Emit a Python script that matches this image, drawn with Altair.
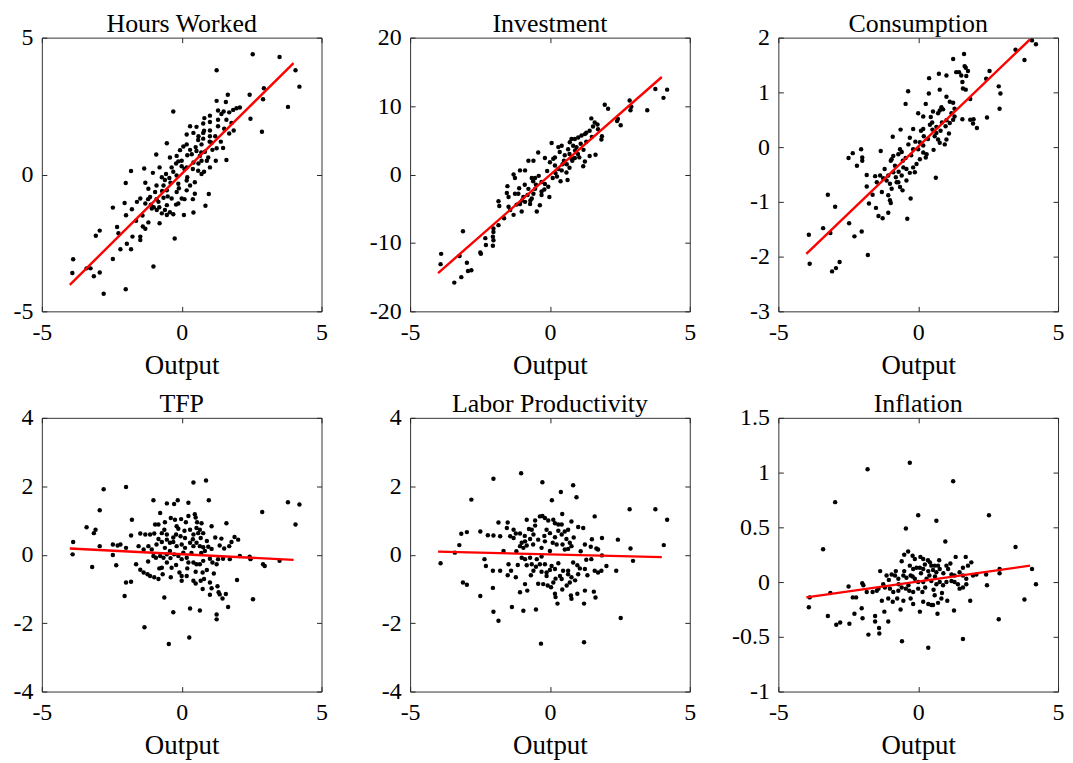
import altair as alt
import pandas as pd

# ---------------- data ----------------
titles = ["Hours Worked", "Investment", "Consumption", "TFP", "Labor Productivity", "Inflation"]
x_ticks = [-5, 0, 5]

hours_pts = [
    (2.54, 4.39), (3.50, 4.29), (1.25, 3.81), (4.07, 3.81), (4.21, 3.21), (2.94, 3.15), (2.43, 2.91), (1.65, 2.91), (2.91, 2.75), (1.25, 2.69),
    (1.58, 2.65), (3.80, 2.47), (2.08, 2.45), (1.96, 2.42), (1.84, 2.36), (1.30, 2.34), (-0.30, 2.30), (1.70, 2.27), (1.42, 2.21), (1.01, 2.15),
    (0.81, 2.06), (2.46, 2.04), (1.60, 2.00), (1.01, 1.92), (0.77, 1.86), (1.78, 1.88), (1.30, 1.76), (0.30, 1.76), (0.53, 1.74), (1.52, 1.67),
    (1.86, 1.61), (1.01, 1.61), (2.87, 1.56), (0.42, 1.52), (0.77, 1.52), (1.70, 1.50), (0.18, 1.46), (1.01, 1.40), (0.77, 1.31), (0.59, 1.26),
    (-0.53, 1.14), (0.18, 1.10), (0.71, 1.10), (1.07, 1.16), (1.25, 0.96), (1.48, 0.97), (0.06, 1.02), (-0.06, 0.89), (0.53, 0.86), (0.83, 0.83),
    (-0.91, 0.73), (-0.18, 0.68), (0.36, 0.74), (0.65, 0.68), (0.95, 0.62), (-0.42, 0.62), (1.60, 0.53), (1.22, 0.50), (0.42, 0.44), (0.71, 0.50),
    (-0.12, 0.48), (-0.79, 0.26), (-0.36, 0.26), (0.00, 0.30), (1.01, 0.26), (0.18, 0.26), (-1.34, 0.22), (-1.81, 0.13), (0.59, 0.14), (-0.56, 0.02),
    (0.71, 0.02), (-1.03, 0.06), (-0.18, -0.04), (-0.71, -0.10), (-0.44, -0.13), (0.18, -0.22), (0.47, -0.28), (-2.00, -0.31), (-0.12, -0.34), (-0.65, -0.40),
    (-1.19, -0.52), (-0.95, -0.64), (-0.53, -0.58), (0.18, -0.58), (-0.18, -0.64), (0.47, -0.70), (0.97, -0.71), (-1.48, -0.88), (-1.13, -0.82), (-0.65, -0.85),
    (-0.36, -0.88), (0.00, -0.88), (-0.83, -1.00), (-2.04, -1.04), (-1.30, -1.06), (-0.53, -1.12), (-0.12, -1.06), (0.85, -1.14), (-2.46, -1.21), (-1.07, -1.24),
    (-1.78, -1.27), (-0.89, -1.30), (-0.42, -1.38), (0.42, -1.39), (-0.71, -1.42), (0.08, -1.48), (-1.99, -1.49), (-0.30, -1.45), (-0.53, -1.48), (-1.63, -1.69),
    (-1.19, -1.75), (-0.79, -1.78), (-1.39, -1.90), (-2.31, -1.92), (-1.30, -1.98), (-2.93, -2.05), (-2.26, -2.15), (-3.07, -2.24), (-1.76, -2.27), (-1.48, -2.27),
    (-0.25, -2.34), (-1.48, -2.39), (-1.96, -2.53), (-2.19, -2.73), (-1.81, -2.73), (-3.88, -3.10), (-2.46, -3.09), (-1.01, -3.36), (-3.40, -3.43), (-3.26, -3.43),
    (-2.93, -3.58), (-3.91, -3.60), (-3.14, -3.72), (-2.00, -4.19), (-2.79, -4.36),
    (-1.2, -0.9), (-1.1, -1.1), (-1.0, -1.2), (-0.9, -0.9), (-0.8, -1.2), (-0.7, -0.6), (-0.6, -0.2), (-0.5, -0.8), (-0.4, -0.3), (-0.3, 0.1),
    (-0.2, -1.1), (-0.1, -0.5), (0.0, 0.5), (0.1, -0.9), (0.2, 0.7), (0.3, -0.4), (0.3, 0.9), (0.4, 0.2), (0.5, 1.0), (0.6, 0.4),
    (0.6, 1.4), (0.7, 0.8), (0.8, 1.6), (0.9, 0.5), (1.0, 1.2), (1.1, 0.9), (1.2, 1.4), (1.3, 2.0), (1.4, 1.2), (1.5, 2.3),
    (-1.4, -1.5), (-1.6, -1.0), (-1.3, -0.3), (-0.6, -1.3), (0.1, 0.2), (0.2, -0.1), (0.4, -0.9), (0.8, 0.1), (-0.2, 0.4), (-0.9, -0.4),
]

invest_pts = [
    (3.77, 12.5), (4.19, 12.4), (4.06, 11.2), (3.48, 9.4), (2.85, 10.8), (2.91, 9.9), (2.88, 9.4), (1.96, 10.2), (2.08, 9.6), (2.43, 8.1),
    (2.40, 7.8), (2.53, 7.2), (1.48, 8.2), (1.60, 7.6), (1.70, 7.3), (1.54, 7.0), (1.72, 6.6), (1.42, 6.4), (1.30, 6.1), (1.25, 5.9),
    (1.13, 5.7), (1.01, 5.4), (0.89, 5.2), (0.77, 5.2), (0.71, 4.7), (0.83, 4.2), (0.65, 3.7), (1.86, 5.6), (1.84, 5.1), (1.63, 2.9),
    (1.42, 2.7), (1.25, 1.9), (1.19, 1.2), (0.89, 2.4), (0.77, 2.3), (0.53, 2.8), (0.42, 4.2), (0.30, 4.0), (0.06, 4.6), (0.18, 2.5),
    (0.63, -0.8), (0.38, -1.0), (0.59, 0.3), (0.42, 0.6), (0.30, 0.8), (0.18, 1.3), (0.12, 2.3), (0.00, 1.8), (-0.77, 2.0), (-0.59, 2.0),
    (-0.42, 3.2), (-0.18, 2.4), (-1.30, 0.0), (-1.25, -0.5), (-0.89, 0.6), (-1.07, 0.6), (-0.53, -0.5), (-0.65, -0.5), (-0.30, -1.1), (-0.18, -1.4),
    (-0.06, -1.8), (-0.02, -3.3), (-0.36, -4.5), (-0.47, -5.4), (-1.52, -1.7), (-1.54, -2.7), (-1.48, -3.3), (-1.84, -3.9), (-1.81, -4.6), (-1.48, -4.7),
    (-1.42, -5.2), (-1.30, -5.9), (-1.19, -4.4), (-1.07, -4.3), (-1.01, -5.4), (-0.89, -4.0), (-0.71, -4.3), (-0.65, -3.5), (-0.59, -2.8), (-0.53, -2.1),
    (-0.77, -2.1), (-0.95, -3.3), (-1.13, -2.8), (-1.25, -2.8), (-1.64, -6.4), (-1.84, -7.4), (-2.02, -7.9), (-2.02, -8.4), (-2.04, -9.1), (-2.02, -9.6),
    (-2.04, -10.4), (-2.31, -9.3), (-2.29, -10.3), (-2.49, -11.4), (-2.47, -11.6), (-3.11, -8.3), (-3.23, -11.9), (-2.97, -12.9), (-2.93, -14.1), (-2.81, -14.0),
    (-3.17, -15.0), (-3.42, -15.8), (-3.89, -11.6), (-3.91, -13.1),
    (0.2, 0.2), (-0.3, -2.5), (0.5, 2.0), (0.7, 3.0), (-0.8, -3.0), (0.9, 3.5), (1.0, 3.0), (1.1, 4.5), (-0.4, -0.2), (0.35, 3.3),
    (0.6, 1.5), (-0.1, 0.5), (-0.6, -1.0), (1.3, 4.8), (1.5, 5.5), (0.25, -0.3), (-1.0, -3.8), (-0.2, -2.2), (0.8, 2.0), (0.95, 4.0),
    (-0.9, -1.5), (-0.7, -3.8), (-0.3, -3.0), (0.1, -0.5), (0.45, 1.5), (0.7, 1.0), (1.05, 2.5), (1.2, 3.6), (-1.1, -2.0), (-0.5, -1.5),
]

cons_pts = [
    (4.07, 1.95), (4.21, 1.88), (3.48, 1.78), (3.80, 1.59), (1.64, 1.70), (1.25, 1.61), (1.66, 1.48), (1.70, 1.45), (1.36, 1.37), (1.46, 1.37),
    (1.78, 1.39), (1.72, 1.30), (1.54, 1.31), (0.74, 1.34), (1.01, 1.31), (0.39, 1.26), (2.55, 1.39), (2.43, 1.25), (1.58, 1.19), (1.60, 1.07),
    (1.70, 1.05), (2.88, 1.11), (2.94, 0.98), (-0.36, 1.02), (0.77, 1.05), (0.38, 0.98), (1.01, 0.92), (1.86, 0.88), (1.13, 0.83), (1.25, 0.81),
    (-0.45, 0.79), (0.27, 0.79), (2.91, 0.70), (0.83, 0.73), (0.77, 0.67), (0.89, 0.69), (0.71, 0.62), (0.53, 0.65), (0.18, 0.56), (0.00, 0.62),
    (1.19, 0.62), (1.30, 0.56), (1.25, 0.50), (1.13, 0.44), (1.01, 0.49), (0.98, 0.38), (1.58, 0.51), (1.86, 0.50), (1.98, 0.51), (1.96, 0.43),
    (2.10, 0.35), (2.46, 0.54), (-0.63, 0.32), (-0.18, 0.33), (0.18, 0.33), (0.42, 0.41), (0.51, 0.32), (0.65, 0.26), (0.59, 0.20), (0.71, 0.14),
    (0.77, 0.08), (0.95, 0.05), (1.01, 0.14), (0.65, 0.37), (-0.91, 0.19), (-0.30, 0.17), (0.06, 0.09), (0.18, 0.03), (-0.18, -0.04), (0.00, -0.04),
    (0.18, -0.10), (0.30, -0.13), (0.27, -0.19), (0.06, -0.22), (-0.06, -0.31), (-0.18, -0.37), (-0.12, -0.46), (-0.30, -0.47), (-0.42, -0.40), (-0.53, -0.37),
    (-0.59, -0.52), (-0.71, -0.64), (-0.65, -0.73), (-0.56, -0.79), (-0.42, -0.61), (-0.83, -0.34), (-0.95, -0.22), (-0.65, -0.04), (-0.59, -0.09), (-0.71, -0.13),
    (-0.89, -0.16), (-0.98, -0.25), (-1.34, -0.07), (-2.49, -0.20), (-2.34, -0.11), (-2.04, -0.04), (-2.00, -0.19), (-2.00, -0.25), (-2.19, -0.34), (-1.84, -0.51),
    (-1.54, -0.53), (-1.48, -0.64), (-1.36, -0.52), (-1.25, -0.57), (-1.13, -0.61), (-1.07, -0.52), (-1.01, -0.67), (-0.89, -0.46), (-0.77, -0.64), (-0.95, -0.76),
    (-1.07, -0.88), (-1.84, -0.72), (-1.63, -0.87), (-1.30, -0.82), (-1.01, -0.97), (-0.98, -1.02), (-0.27, -0.94), (0.63, -0.56), (-1.76, -1.03), (-1.51, -1.11),
    (-1.07, -1.20), (-1.42, -1.26), (-1.27, -1.30), (-0.39, -1.31), (-3.23, -0.87), (-2.97, -1.09), (-3.40, -1.48), (-3.14, -1.57), (-2.47, -1.39), (-2.02, -1.54),
    (-2.28, -1.63), (-3.91, -1.60), (-3.88, -2.13), (-1.80, -1.97), (-2.81, -2.10), (-2.94, -2.21), (-3.08, -2.27),
    (0.35, 0.15), (0.45, 0.55), (-0.25, -0.15), (-0.45, -0.2), (0.1, 0.3), (0.85, 0.45), (-0.8, -0.55), (-0.35, 0.05), (0.55, -0.05), (1.1, 0.25),
    (0.2, 0.2), (0.5, 0.45), (-0.1, 0.1), (-0.55, -0.25), (0.8, 0.3), (1.3, 0.7), (-1.2, -0.4), (-0.7, -0.45),
]

tfp_pts = [
    (0.87, 2.17), (0.42, 2.11), (-1.99, 1.98), (-2.79, 1.91), (-1.01, 1.59), (-0.14, 1.59), (-0.27, 1.48), (-0.53, 1.50), (0.24, 1.52), (0.97, 1.59),
    (3.80, 1.53), (4.21, 1.47), (-2.93, 1.30), (2.88, 1.25), (-0.77, 1.22), (0.47, 1.18), (0.50, 1.09), (-1.78, 1.02), (-0.39, 1.07), (-0.24, 1.02),
    (-0.02, 1.04), (0.24, 1.13), (0.71, 0.92), (1.60, 0.92), (4.07, 0.88), (-3.40, 0.80), (-3.08, 0.73), (-3.14, 0.63), (-0.95, 0.88), (-0.83, 0.88),
    (-0.18, 0.83), (-0.12, 0.76), (0.30, 0.73), (0.53, 0.78), (0.65, 0.73), (1.07, 0.83), (-0.62, 0.73), (-1.48, 0.62), (-1.30, 0.59), (-1.13, 0.59),
    (-0.98, 0.62), (-0.71, 0.63), (-1.81, 0.56), (-0.53, 0.59), (-0.20, 0.59), (-0.04, 0.54), (0.12, 0.49), (0.42, 0.59), (0.59, 0.63), (0.77, 0.63),
    (0.68, 0.49), (1.42, 0.47), (1.89, 0.52), (2.02, 0.44), (1.78, 0.37), (1.70, 0.25), (1.36, 0.27), (1.52, 0.18), (-0.83, 0.46), (-0.71, 0.37),
    (-0.53, 0.44), (-0.42, 0.35), (-0.30, 0.37), (-0.18, 0.25), (0.00, 0.30), (0.12, 0.20), (0.30, 0.35), (0.42, 0.25), (0.53, 0.35), (0.65, 0.25),
    (0.77, 0.22), (0.95, 0.23), (1.07, 0.17), (0.83, 0.11), (-2.46, 0.30), (-2.29, 0.27), (-2.19, 0.30), (-2.93, 0.25), (-3.88, 0.37), (-3.90, 0.01),
    (-2.46, -0.01), (-3.20, -0.36), (-2.34, -0.31), (-1.99, 0.20), (-1.54, 0.25), (-1.36, 0.15), (-1.19, 0.25), (-1.07, 0.15), (-1.01, -0.04), (-0.92, -0.09),
    (-0.77, -0.04), (-0.65, -0.09), (-0.53, 0.01), (-0.42, 0.11), (-0.27, 0.01), (-0.12, -0.04), (0.00, -0.13), (0.06, 0.06), (0.18, -0.09), (0.24, -0.23),
    (0.42, -0.23), (0.53, -0.28), (0.65, -0.28), (0.77, -0.18), (1.01, -0.12), (1.10, -0.23), (1.25, -0.28), (1.30, -0.13), (1.48, -0.12), (1.72, -0.13),
    (2.08, -0.04), (2.43, -0.06), (2.46, -0.13), (2.91, -0.28), (2.97, -0.33), (3.50, -0.18), (-1.63, -0.28), (-1.48, -0.44), (-1.36, -0.52), (-1.22, -0.57),
    (-1.13, -0.62), (-0.98, -0.66), (-0.83, -0.71), (-0.68, -0.57), (-0.71, -0.38), (-0.53, -0.23), (-0.36, -0.38), (-0.08, -0.52), (0.00, -0.62), (0.00, -0.76),
    (0.18, -0.62), (0.42, -0.76), (0.50, -0.84), (0.68, -0.76), (0.75, -0.52), (0.80, -0.71), (1.01, -0.81), (1.07, -0.98), (1.28, -0.92), (1.32, -1.10),
    (1.36, -1.16), (1.46, -1.28), (1.58, -1.15), (1.66, -1.53), (1.98, -0.74), (-1.99, -0.81), (-1.81, -0.79), (-2.04, -1.21), (-0.62, -1.25), (-0.39, -0.66),
    (0.75, -1.00), (1.01, -1.17), (0.30, -1.57), (0.65, -1.63), (-0.30, -1.68), (1.25, -1.75), (1.25, -1.89), (2.55, -1.30), (-1.33, -2.12), (0.27, -2.42),
    (-0.46, -2.61),
    (-0.9, 0.3), (-0.6, 0.2), (-0.3, 0.5), (0.1, 0.7), (0.4, 0.45), (0.7, 0.05), (0.9, 0.4), (1.2, 0.5), (-1.2, -0.2), (-0.8, -0.4),
    (-0.4, -0.1), (0.2, -0.4), (0.5, -0.5), (0.9, -0.45), (1.15, -0.55), (-0.2, -0.3), (0.35, 0.05), (-0.6, 0.95), (0.15, 0.95), (0.55, 0.95),
]

lp_pts = [
    (-1.03, 2.38), (-2.02, 2.22), (-0.27, 2.12), (0.83, 2.03), (0.39, 1.83), (0.95, 1.68), (-2.81, 1.61), (0.07, 1.59), (2.85, 1.33), (3.77, 1.33),
    (4.19, 1.02), (1.60, 1.12), (0.44, 1.19), (-0.83, 1.02), (-0.53, 1.00), (-0.36, 1.12), (-0.27, 1.13), (-0.18, 1.07), (-0.06, 1.00), (0.12, 1.02),
    (0.18, 0.92), (0.30, 0.88), (0.42, 0.88), (0.77, 0.97), (1.01, 0.81), (1.19, 0.78), (-1.84, 0.94), (-1.51, 0.94), (-2.97, 0.66), (-3.17, 0.61),
    (-2.49, 0.68), (-2.22, 0.57), (-2.02, 0.56), (-1.78, 0.54), (-1.54, 0.78), (-1.30, 0.73), (-1.22, 0.62), (-1.07, 0.62), (-1.42, 0.54), (-1.30, 0.49),
    (-0.65, 0.73), (-0.53, 0.85), (-0.59, 0.59), (-0.71, 0.46), (-0.89, 0.39), (-1.01, 0.35), (-0.83, 0.27), (-1.07, 0.25), (-0.95, 0.20), (-0.12, 0.73),
    (0.00, 0.63), (0.18, 0.51), (0.42, 0.59), (0.53, 0.68), (0.65, 0.73), (0.59, 0.46), (0.71, 0.35), (0.77, 0.25), (0.65, 0.17), (0.53, 0.15),
    (0.24, 0.30), (0.00, 0.11), (-0.30, 0.20), (-0.18, 0.39), (-0.42, 0.44), (1.86, 0.49), (2.43, 0.44), (1.25, 0.30), (1.46, 0.23), (1.66, 0.18),
    (1.72, 0.15), (-3.24, 0.28), (4.07, 0.28), (2.88, 0.18), (-1.66, 0.11), (-3.40, 0.06), (1.48, -0.13), (1.86, -0.02), (-3.91, -0.25), (-2.34, -0.13),
    (-2.29, -0.33), (-2.04, -0.47), (-1.78, -0.47), (-1.48, -0.28), (-1.39, -0.47), (-1.51, -0.60), (-1.22, -0.66), (-1.01, -0.09), (-0.89, -0.13), (-0.71, -0.09),
    (-0.65, -0.28), (-0.83, -0.31), (-0.59, -0.47), (-0.68, -0.60), (-0.89, -0.86), (-0.81, -1.05), (-0.47, -0.13), (-0.36, -0.28), (-0.18, -0.28), (-0.12, -0.52),
    (-0.30, -0.50), (-0.12, -0.62), (0.06, -0.33), (0.18, -0.42), (0.36, -0.62), (0.42, -0.71), (0.47, -0.47), (0.65, -0.47), (0.65, -0.57), (0.77, -0.66),
    (0.71, -0.81), (0.83, -0.23), (0.98, -0.31), (1.01, -0.57), (1.07, -0.40), (1.25, -0.42), (1.34, -0.60), (1.60, -0.47), (1.72, -0.52), (1.84, -0.47),
    (2.02, -0.33), (2.37, -0.47), (2.97, -0.18), (-3.11, -0.81), (-2.97, -0.88), (-2.49, -1.21), (-2.04, -0.97), (-1.07, -1.10), (-0.42, -0.85), (-0.24, -0.86),
    (-0.08, -0.90), (0.04, -0.95), (0.12, -0.81), (0.18, -1.14), (0.20, -1.24), (0.44, -1.02), (0.75, -1.19), (0.77, -1.29), (0.98, -1.14), (1.25, -1.05),
    (1.57, -1.08), (1.63, -1.25), (0.27, -1.43), (1.22, -1.43), (-1.36, -1.53), (-0.95, -1.64), (-0.50, -1.60), (-2.02, -1.67), (-1.84, -1.93), (2.53, -1.85),
    (-0.32, -2.60), (1.22, -2.56),
    (-0.9, 0.55), (-0.6, 0.3), (-0.2, 0.55), (0.3, 0.7), (0.85, 0.5), (1.1, 0.1), (-1.2, 0.1), (-0.5, -0.35), (0.0, -0.45), (0.3, -0.25),
    (0.6, -0.9), (0.9, -0.75), (1.3, -0.15), (-0.3, -0.05), (0.1, 0.35), (-1.15, -0.3), (0.45, 0.3), (1.5, 0.45), (-0.75, 0.75), (0.2, -0.7),
]

infl_pts = [
    (-0.30, 1.09), (-1.81, 1.03), (1.25, 0.92), (-2.97, 0.73), (0.00, 0.61), (2.53, 0.61), (0.65, 0.56), (-0.44, 0.49), (0.97, 0.37), (-3.40, 0.30),
    (3.48, 0.32), (-0.36, 0.28), (-0.50, 0.25), (-0.20, 0.24), (-0.59, 0.19), (-0.12, 0.21), (0.08, 0.23), (0.18, 0.21), (0.42, 0.18), (0.24, 0.16),
    (0.47, 0.15), (0.59, 0.15), (0.71, 0.15), (0.77, 0.12), (0.65, 0.09), (0.53, 0.11), (0.36, 0.10), (0.18, 0.12), (0.06, 0.13), (-0.06, 0.13),
    (-0.18, 0.12), (-0.30, 0.15), (1.34, 0.23), (1.70, 0.23), (1.90, 0.18), (1.78, 0.15), (1.60, 0.13), (1.01, 0.15), (1.07, 0.12), (1.19, 0.07),
    (1.30, 0.06), (1.48, 0.09), (1.60, 0.06), (1.72, 0.03), (1.96, 0.06), (2.08, 0.07), (2.43, 0.07), (2.91, 0.12), (2.91, 0.08), (4.07, 0.12),
    (4.21, -0.02), (2.46, -0.03), (3.80, -0.16), (-1.36, 0.10), (-1.13, 0.06), (-0.95, 0.07), (-0.83, 0.06), (-0.71, 0.03), (-0.53, 0.06), (-0.42, 0.04),
    (-0.27, 0.06), (-0.12, 0.03), (0.00, 0.00), (0.18, 0.00), (0.30, 0.03), (0.47, 0.01), (0.65, -0.02), (0.77, 0.00), (0.89, -0.03), (1.01, 0.00),
    (1.19, 0.01), (1.30, 0.00), (1.42, -0.02), (1.48, -0.06), (1.60, -0.05), (1.72, -0.02), (-2.49, -0.04), (-2.00, -0.01), (-1.96, -0.03), (-1.84, -0.09),
    (-1.63, -0.09), (-1.48, -0.08), (-1.42, -0.06), (-1.25, -0.02), (-1.19, -0.05), (-1.01, -0.06), (-0.89, -0.09), (-0.71, -0.08), (-0.59, -0.05), (-0.44, -0.06),
    (-0.32, -0.08), (-0.18, -0.09), (0.00, -0.06), (0.15, -0.09), (-3.14, -0.10), (-3.88, -0.14), (-3.91, -0.23), (-2.34, -0.14), (-2.22, -0.14), (-1.30, -0.17),
    (-1.07, -0.15), (-0.91, -0.18), (-0.75, -0.15), (-0.53, -0.17), (-0.27, -0.15), (-0.18, -0.20), (0.18, -0.18), (0.36, -0.20), (0.47, -0.21), (0.53, -0.21),
    (0.71, -0.19), (0.59, -0.12), (0.83, -0.15), (1.04, -0.17), (1.86, -0.17), (-2.02, -0.24), (-2.28, -0.29), (-1.99, -0.33), (-1.54, -0.31), (-1.54, -0.36),
    (-1.21, -0.27), (-1.07, -0.36), (-1.40, -0.42), (-1.39, -0.47), (-1.78, -0.48), (-0.63, -0.25), (0.06, -0.27), (0.69, -0.29), (1.28, -0.26), (2.88, -0.34),
    (-3.23, -0.31), (-2.93, -0.39), (-2.79, -0.37), (-2.46, -0.38), (-0.58, -0.54), (1.60, -0.52), (0.36, -0.60),
    (-0.8, 0.1), (-0.5, 0.1), (-0.2, 0.05), (0.1, 0.08), (0.4, 0.06), (0.6, 0.05), (0.9, 0.08), (1.15, 0.17), (-0.7, -0.02), (-0.35, -0.03),
    (0.25, -0.05), (0.55, -0.07), (0.85, -0.1), (-1.05, 0.02), (0.35, 0.2), (0.75, 0.2),
]

# end points of the red least-squares lines
fit_x = [-4, 4]
hours_fit = [-4.03, 4.07]
invest_fit = [-14.4, 14.25]
cons_fit = [-1.95, 1.97]
tfp_fit = [0.18, -0.15]
lp_fit = [0.09, -0.07]
infl_fit = [-0.14, 0.15]

y_domains = [[-5, 5], [-20, 20], [-3, 2], [-4, 4], [-4, 4], [-1, 1.5]]
y_ticks = [[-5, 0, 5], [-20, -10, 0, 10, 20], [-3, -2, -1, 0, 1, 2],
           [-4, -2, 0, 2, 4], [-4, -2, 0, 2, 4], [-1, -0.5, 0, 0.5, 1, 1.5]]
all_pts = [hours_pts, invest_pts, cons_pts, tfp_pts, lp_pts, infl_pts]
all_fits = [hours_fit, invest_fit, cons_fit, tfp_fit, lp_fit, infl_fit]

# ---------------- styling ----------------
FONT = "Liberation Serif, Times New Roman, serif"
INK = "#262626"
BOX = "#333333"
W, H = 281, 275

common = dict(grid=False, domain=False, tickSize=5, offset=-5, tickColor=INK, tickWidth=1,
              labelFont=FONT, labelFontSize=24, labelColor="black",
              labelExpr="'' + datum.value")
mirror = dict(title=None, labels=False, grid=False, domain=False, tickSize=5, offset=-5,
              tickColor=INK, tickWidth=1, minExtent=0, maxExtent=0)


def panel(title, pts, fit_y, ydom, yticks):
    df = pd.DataFrame(pts, columns=["x", "y"])
    fdf = pd.DataFrame({"x": fit_x, "y": fit_y})
    xs = alt.Scale(domain=[-5, 5], nice=False, zero=False)
    ys = alt.Scale(domain=ydom, nice=False, zero=False)
    dots = alt.Chart(df).mark_circle(size=20, color="black", opacity=1).encode(
        x=alt.X("x:Q", scale=xs, axis=alt.Axis(values=x_ticks, orient="bottom", title="Output",
                                                titleFont=FONT, titleFontSize=27, titleFontWeight="normal",
                                                titleColor="black", titlePadding=8, labelPadding=9,
                                                labelFlush=False, **common)),
        y=alt.Y("y:Q", scale=ys, axis=alt.Axis(values=yticks, orient="left", title=None,
                                                labelPadding=9, **common)),
    )
    line = alt.Chart(fdf).mark_line(color="#ff0000", strokeWidth=2.4).encode(
        x=alt.X("x:Q", scale=xs, axis=alt.Axis(values=x_ticks, orient="top", **mirror)),
        y=alt.Y("y:Q", scale=ys, axis=alt.Axis(values=yticks, orient="right", **mirror)),
    )
    return alt.layer(dots, line).resolve_axis(x="independent", y="independent").properties(
        width=W, height=H,
        title=alt.TitleParams(title, font=FONT, fontSize=26, fontWeight="normal", color="black",
                              offset=-11),
    )


panels = [panel(t, p, f, d, k) for t, p, f, d, k in zip(titles, all_pts, all_fits, y_domains, y_ticks)]

chart = alt.concat(*panels, columns=3, spacing={"row": 107, "column": 89}, bounds="flush").properties(
    padding={"left": 4, "top": 0, "right": 0, "bottom": 0},
    background="white",
).configure_view(stroke=BOX, strokeWidth=1)

chart.save("out.html", embed_options={"renderer": "svg", "actions": False})
